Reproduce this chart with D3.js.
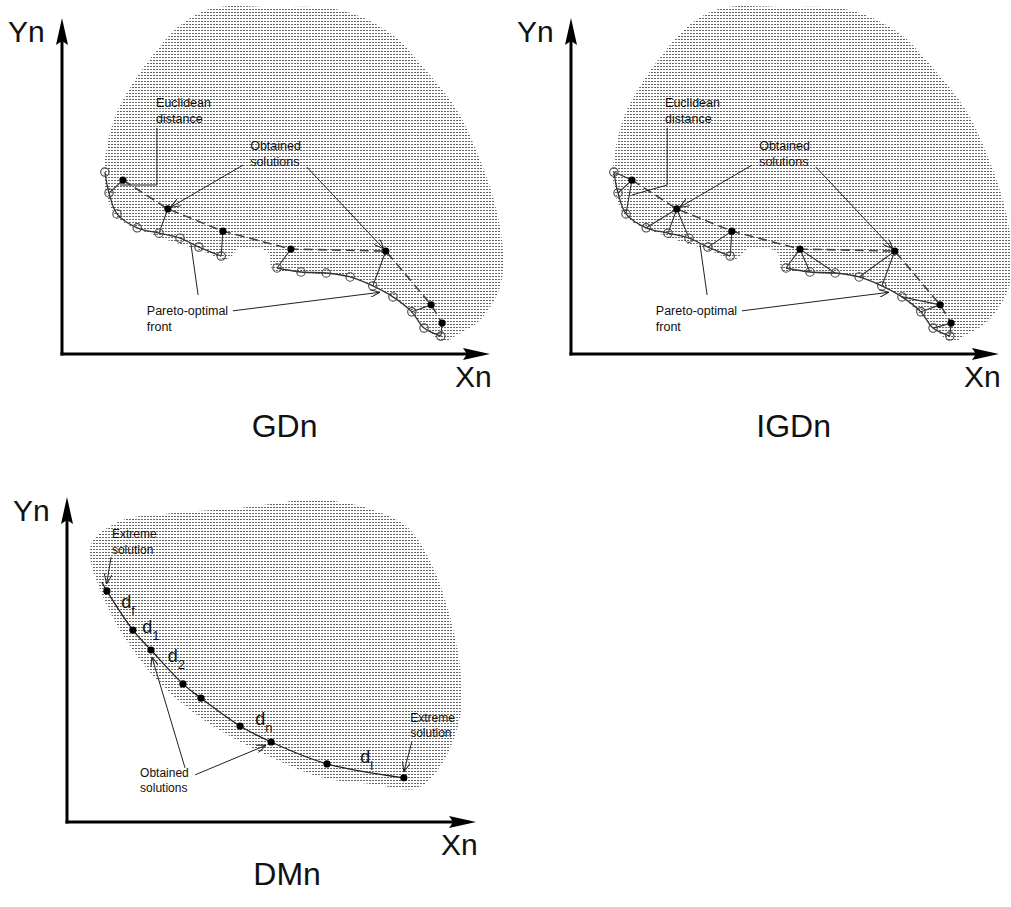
<!DOCTYPE html>
<html>
<head>
<meta charset="utf-8">
<script src="https://cdn.jsdelivr.net/npm/d3@7"></script>
<style>
  body { margin: 0; background: #fff; }
  text { font-family: "Liberation Sans", Arial, sans-serif; fill: #111; }
</style>
</head>
<body>
<script>
// ---- data (units 0..100 on each axis) ----

// Pareto-optimal front, two pieces (open circles)
var frontA = [[10.2,54.8],[11.2,48.5],[13.1,42.2],[17.9,38.0],[23.1,36.4],[28.1,34.9],[32.6,32.2],[37.9,29.5]];
var frontB = [[51.2,25.9],[56.9,24.7],[62.9,24.4],[68.6,23.2],[74.0,20.5],[78.8,17.2],[83.3,12.7],[86.2,7.8],[90.2,5.4]];
var front = frontA.concat(frontB);

// obtained solutions (filled dots)
var obtained = [[14.5,52.4],[25.2,43.7],[38.3,37.0],[54.5,31.6],[77.1,31.0],[87.9,14.8],[90.5,9.3]];

// GD: each obtained solution -> nearest front point
var gdLinks = [[0,1],[1,4],[2,7],[3,8],[4,12],[5,14],[6,16]];
// IGD: each front point -> nearest obtained solution
var igdLinks = [[0,0],[1,0],[2,0],[3,1],[4,1],[5,1],[6,2],[7,2],[8,3],[9,3],[10,3],[11,4],[12,4],[13,5],[14,5],[15,6],[16,6]];

// objective space outline (top panels)
var regionTop = [[36.0,104.2],[50.2,104.5],[66.2,103.6],[78.1,96.7],[86.0,86.4],[94.0,73.5],[100.2,56.3],[103.6,42.5],
  [105.0,30.4],[104.3,20.2],[99.5,10.2],[94.0,5.7],[90.7,3.6],[85.2,9.6],[78.1,17.8],[70.2,22.6],[58.3,24.4],
  [50.2,25.3],[49.0,30.7],[42.4,31.9],[39.3,28.6],[32.1,31.6],[22.6,35.5],[13.1,41.3],[10.2,50.3],[10.2,58.4],
  [12.6,71.4],[16.9,81.6],[22.6,91.6],[28.8,99.7]];

// DMn: obtained solutions along the front
var dmPoints = [[9.5,69.6],[15.7,57.8],[20.0,51.8],[27.6,41.6],[31.9,37.3],[41.2,28.9],[48.6,24.1],[61.9,17.5],[80.2,13.3]];
var dmCurveStart = [8.3,72.3];
var regionDM = [[6.2,84.9],[13.3,91.0],[25.2,93.1],[41.2,94.6],[57.1,97.0],[65.0,96.4],[72.9,94.0],[81.0,88.9],
  [87.1,76.8],[91.2,61.7],[93.6,46.7],[93.6,31.6],[88.8,16.6],[83.3,10.2],[72.9,11.4],[61.0,13.3],[49.0,19.3],
  [33.3,30.1],[21.4,42.8],[13.3,56.3],[7.9,69.9],[5.5,79.8]];
var dmLabels = [
  {d:"d", s:"f", x:12.9, y:64.5},
  {d:"d", s:"1", x:17.9, y:56.9},
  {d:"d", s:"2", x:24.0, y:48.2},
  {d:"d", s:"n", x:44.8, y:29.2},
  {d:"d", s:"l", x:69.8, y:17.8}
];

// annotation texts and leader lines
var topTexts = [
  {t:"Euclidean", x:22.4, y:74.4}, {t:"distance", x:22.4, y:69.6},
  {t:"Obtained", x:44.8, y:61.4}, {t:"solutions", x:44.8, y:56.6},
  {t:"Pareto-optimal", x:20.2, y:11.7}, {t:"front", x:20.2, y:6.9}
];
var topLeaders = [
  {pts:[[43.1,56.9],[25.2,43.7]], arrow:true},
  {pts:[[58.3,56.3],[77.1,31.0]], arrow:true},
  {pts:[[32.4,17.8],[30.7,33.1]], arrow:false},
  {pts:[[40.7,13.0],[76.4,18.7]], arrow:true}
];
var gdCallout = [[22.6,68.1],[22.6,50.9],[13.8,50.9]];
var igdCallout = [[22.9,68.1],[22.9,50.9],[14.5,47.9]];

var dmTexts = [
  {t:"Extreme", x:10.7, y:85.5}, {t:"solution", x:10.7, y:80.7},
  {t:"Extreme", x:81.7, y:30.1}, {t:"solution", x:81.7, y:25.6},
  {t:"Obtained", x:17.4, y:13.6}, {t:"solutions", x:17.4, y:9.0}
];
var dmLeaders = [
  {pts:[[10.5,79.8],[9.3,70.8]], arrow:true},
  {pts:[[82.1,24.1],[80.0,14.2]], arrow:true},
  {pts:[[28.1,16.3],[20.0,50.6]], arrow:true},
  {pts:[[30.5,14.2],[48.1,23.5]], arrow:true}
];

// ---- drawing ----
var width = 1011, height = 907;
var svg = d3.select("body").append("svg")
    .attr("width", width)
    .attr("height", height);

var defs = svg.append("defs");
var pat = defs.append("pattern")
    .attr("id", "dots")
    .attr("patternUnits", "userSpaceOnUse")
    .attr("width", 3).attr("height", 3);
pat.append("rect").attr("width", 2).attr("height", 1).attr("fill", "#666");

defs.append("marker")
    .attr("id", "arr")
    .attr("viewBox", "0 0 10 8")
    .attr("refX", 10).attr("refY", 4)
    .attr("markerWidth", 10).attr("markerHeight", 8)
    .attr("markerUnits", "userSpaceOnUse")
    .attr("orient", "auto")
  .append("path")
    .attr("d", "M0,0L10,4L0,8")
    .attr("fill", "none")
    .attr("stroke", "#222")
    .attr("stroke-width", 1);

function makePanel(x0, y0) {
  var x = d3.scaleLinear().domain([0, 100]).range([x0, x0 + 420]);
  var y = d3.scaleLinear().domain([0, 100]).range([y0, y0 - 332]);
  return {g: svg.append("g"), x: x, y: y};
}

function drawAxes(p, xTip, yTip, title, titleX, titleY) {
  var g = p.g, ox = p.x(0), oy = p.y(0);
  var tx = p.x(xTip), ty = p.y(yTip);
  g.append("line").attr("x1", ox).attr("y1", oy + 1.5).attr("x2", ox).attr("y2", ty + 20)
    .attr("stroke", "#000").attr("stroke-width", 3);
  g.append("line").attr("x1", ox - 1.5).attr("y1", oy).attr("x2", tx - 20).attr("y2", oy)
    .attr("stroke", "#000").attr("stroke-width", 3);
  g.append("path").attr("d", "M" + ox + "," + ty + "L" + (ox + 6) + "," + (ty + 27) + "L" + ox + "," + (ty + 23) + "L" + (ox - 6) + "," + (ty + 27) + "Z")
    .attr("fill", "#000");
  g.append("path").attr("d", "M" + tx + "," + oy + "L" + (tx - 27) + "," + (oy - 6) + "L" + (tx - 23) + "," + oy + "L" + (tx - 27) + "," + (oy + 6) + "Z")
    .attr("fill", "#000");
  g.append("text").attr("x", ox - 54).attr("y", ty + 24).style("font-size", "30px").text("Yn");
  g.append("text").attr("x", tx - 35).attr("y", oy + 33).style("font-size", "30px").text("Xn");
  g.append("text").attr("x", p.x(titleX)).attr("y", p.y(titleY)).attr("text-anchor", "middle")
    .style("font-size", "32px").text(title);
}

function drawRegion(p, pts) {
  var line = d3.line().x(function(d){ return p.x(d[0]); }).y(function(d){ return p.y(d[1]); })
    .curve(d3.curveCatmullRomClosed.alpha(0.5));
  p.g.append("path").attr("d", line(pts)).attr("fill", "url(#dots)").attr("stroke", "none");
}

// shorten the last segment so arrow tips stop at the dot edge
function leaderPath(p, pts, cut) {
  var px = pts.map(function(d){ return [p.x(d[0]), p.y(d[1])]; });
  if (cut) {
    var n = px.length, a = px[n - 2], b = px[n - 1];
    var dx = b[0] - a[0], dy = b[1] - a[1], L = Math.sqrt(dx * dx + dy * dy);
    px[n - 1] = [b[0] - dx / L * cut, b[1] - dy / L * cut];
  }
  return d3.line()(px);
}

function drawLeaders(p, leaders) {
  leaders.forEach(function(l) {
    p.g.append("path").attr("d", leaderPath(p, l.pts, l.arrow ? 3 : 0))
      .attr("fill", "none").attr("stroke", "#222").attr("stroke-width", 1)
      .attr("marker-end", l.arrow ? "url(#arr)" : null);
  });
}

function drawTexts(p, texts, size) {
  p.g.selectAll(null).data(texts).enter().append("text")
    .attr("x", function(d){ return p.x(d.x); })
    .attr("y", function(d){ return p.y(d.y); })
    .style("font-size", size + "px")
    .text(function(d){ return d.t; });
}

function drawTopPanel(x0, links, inverse, callout, title) {
  var p = makePanel(x0, 354);
  drawRegion(p, regionTop);
  drawAxes(p, 101.9, 101.2, title, 53, -25);

  var smooth = d3.line().x(function(d){ return p.x(d[0]); }).y(function(d){ return p.y(d[1]); })
    .curve(d3.curveCatmullRom.alpha(0.5));
  [frontA, frontB].forEach(function(seg) {
    p.g.append("path").attr("d", smooth(seg)).attr("fill", "none")
      .attr("stroke", "#333").attr("stroke-width", 1.3);
  });

  var straight = d3.line().x(function(d){ return p.x(d[0]); }).y(function(d){ return p.y(d[1]); });
  p.g.append("path").attr("d", straight(obtained)).attr("fill", "none")
    .attr("stroke", "#444").attr("stroke-width", 1.6).attr("stroke-dasharray", "9,5");

  // euclidean distance segments
  p.g.selectAll(null).data(links).enter().append("line")
    .attr("x1", function(d){ var a = inverse ? front[d[0]] : obtained[d[0]]; return p.x(a[0]); })
    .attr("y1", function(d){ var a = inverse ? front[d[0]] : obtained[d[0]]; return p.y(a[1]); })
    .attr("x2", function(d){ var b = inverse ? obtained[d[1]] : front[d[1]]; return p.x(b[0]); })
    .attr("y2", function(d){ var b = inverse ? obtained[d[1]] : front[d[1]]; return p.y(b[1]); })
    .attr("stroke", "#333").attr("stroke-width", 1.1);

  p.g.selectAll(null).data(front).enter().append("circle")
    .attr("cx", function(d){ return p.x(d[0]); })
    .attr("cy", function(d){ return p.y(d[1]); })
    .attr("r", 4.2).attr("fill", "none").attr("stroke", "#444").attr("stroke-width", 1.1);
  p.g.selectAll(null).data(obtained).enter().append("circle")
    .attr("cx", function(d){ return p.x(d[0]); })
    .attr("cy", function(d){ return p.y(d[1]); })
    .attr("r", 3.6).attr("fill", "#000");

  p.g.append("path").attr("d", leaderPath(p, callout, 0)).attr("fill", "none")
    .attr("stroke", "#222").attr("stroke-width", 1);
  drawLeaders(p, topLeaders);
  drawTexts(p, topTexts, 12.5);
}

drawTopPanel(62, gdLinks, false, gdCallout, "GDn");
drawTopPanel(571, igdLinks, true, igdCallout, "IGDn");

// DMn panel
var dm = makePanel(67, 822);
drawRegion(dm, regionDM);
drawAxes(dm, 97.4, 97.9, "DMn", 52.4, -19);

var dmLine = d3.line().x(function(d){ return dm.x(d[0]); }).y(function(d){ return dm.y(d[1]); })
  .curve(d3.curveCatmullRom.alpha(0.5));
dm.g.append("path").attr("d", dmLine([dmCurveStart].concat(dmPoints))).attr("fill", "none")
  .attr("stroke", "#222").attr("stroke-width", 1.3);
dm.g.selectAll(null).data(dmPoints).enter().append("circle")
  .attr("cx", function(d){ return dm.x(d[0]); })
  .attr("cy", function(d){ return dm.y(d[1]); })
  .attr("r", 3.6).attr("fill", "#000");

drawLeaders(dm, dmLeaders);
drawTexts(dm, dmTexts, 12);

var dl = dm.g.selectAll(null).data(dmLabels).enter().append("text")
  .attr("x", function(d){ return dm.x(d.x); })
  .attr("y", function(d){ return dm.y(d.y); })
  .style("font-size", "18px");
dl.append("tspan").text(function(d){ return d.d; });
dl.append("tspan").attr("dy", 7).style("font-size", "13px").text(function(d){ return d.s; });
</script>
</body>
</html>
